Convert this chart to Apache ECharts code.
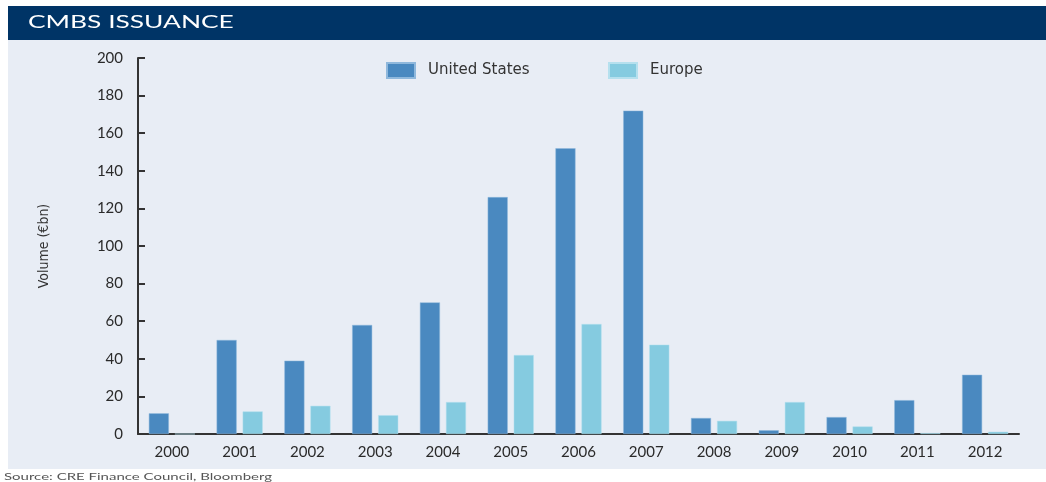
<!DOCTYPE html>
<html>
<head>
<meta charset="utf-8">
<script src="https://cdn.jsdelivr.net/npm/echarts@6/dist/echarts.min.js"></script>
<style>
html,body{margin:0;padding:0;background:#ffffff;}
#chart{width:1046px;height:482px;}
</style>
</head>
<body>
<div id="chart"></div>
<script>
var categories = ['2000','2001','2002','2003','2004','2005','2006','2007','2008','2009','2010','2011','2012'];
var unitedStates = [11, 50, 39, 58, 70, 126, 152, 172, 8.5, 2, 9, 18, 31.5];
var europe = [0, 12, 15, 10, 17, 42, 58.5, 47.5, 7, 17, 4, 0.5, 1.2];
var seriesNames = ['United States', 'Europe'];
var yTicks = {min: 0, max: 200, interval: 20};
var titleText = 'CMBS ISSUANCE';
var yAxisName = 'Volume (€bn)';
var sourceText = 'Source: CRE Finance Council, Bloomberg';

var font = 'Lato, "Open Sans", sans-serif';
var legendText = {fontFamily: '"DejaVu Sans", sans-serif', fontSize: 15, color: '#333333', padding: [0, 0, 0, 8]};
var chart = echarts.init(document.getElementById('chart'), null, {renderer: 'canvas'});
chart.setOption({
  animation: false,
  backgroundColor: '#ffffff',
  graphic: [
    {type: 'rect', left: 8, top: 40, shape: {width: 1038, height: 429}, style: {fill: '#e8edf5'}, z: -10},
    {type: 'rect', left: 8, top: 6, shape: {width: 1038, height: 34}, style: {fill: '#003466'}, z: -10},
    {type: 'text', x: 28, y: 14, scaleX: 1.55, style: {text: titleText, fill: '#ffffff', font: '17px ' + font}},
    {type: 'text', x: 4, y: 472, scaleX: 1.5, style: {text: sourceText, fill: '#555555', font: '10px ' + font}}
  ],
  legend: [
    {top: 57, left: 381, itemWidth: 28, itemHeight: 15, icon: 'rect', textStyle: legendText, data: [seriesNames[0]]},
    {top: 57, left: 603, itemWidth: 28, itemHeight: 15, icon: 'rect', textStyle: legendText, data: [seriesNames[1]]}
  ],
  grid: {left: 138, right: 27, top: 58, bottom: 48},
  xAxis: {
    type: 'category',
    data: categories,
    axisLine: {lineStyle: {color: '#333333', width: 2}},
    axisTick: {inside: true, length: 4, lineStyle: {color: '#333333', width: 2}},
    axisLabel: {fontFamily: font, fontSize: 15, color: '#2a2a2a', margin: 11}
  },
  yAxis: {
    type: 'value',
    min: yTicks.min, max: yTicks.max, interval: yTicks.interval,
    name: yAxisName,
    nameLocation: 'middle',
    nameGap: 87,
    nameTextStyle: {fontFamily: '"Liberation Sans Narrow", "DejaVu Sans Condensed", sans-serif', fontSize: 14, color: '#333333'},
    axisLine: {show: true, lineStyle: {color: '#333333', width: 2}},
    axisTick: {show: true, inside: true, length: 7, lineStyle: {color: '#333333', width: 2}},
    splitLine: {show: false},
    axisLabel: {fontFamily: font, fontSize: 15, color: '#2a2a2a', margin: 15}
  },
  series: [
    {name: seriesNames[0], type: 'bar', data: unitedStates, barGap: '30%', barCategoryGap: '32%',
     itemStyle: {color: '#4a89c0', borderColor: '#8fb8dc', borderWidth: 0.5}},
    {name: seriesNames[1], type: 'bar', data: europe,
     itemStyle: {color: '#85cbe0', borderColor: '#b5e0ee', borderWidth: 0.5}}
  ]
});
</script>
</body>
</html>
